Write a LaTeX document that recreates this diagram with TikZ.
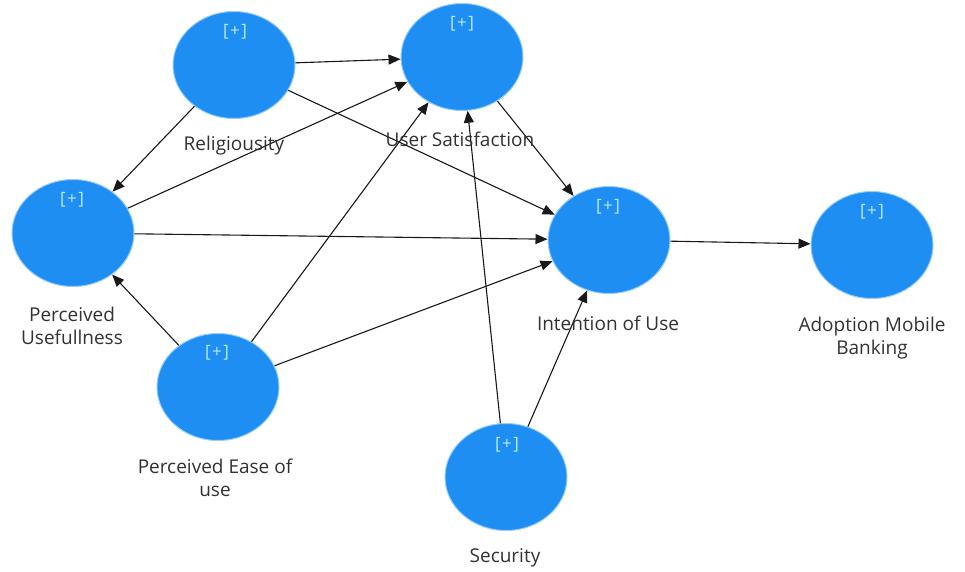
\documentclass[tikz,border=0pt]{standalone}
\usepackage{fontspec}
\setmainfont{Open Sans}
\usetikzlibrary{arrows.meta,shapes.geometric,calc}
\definecolor{lvfill}{RGB}{30,142,242}
\definecolor{lvedge}{RGB}{150,205,255}
\definecolor{plustext}{RGB}{185,235,255}
\definecolor{labtext}{RGB}{50,50,50}
\definecolor{arr}{RGB}{25,25,25}
\tikzset{
  lv/.style={ellipse, fill=lvfill, draw=lvedge, line width=1pt, minimum width=122pt, minimum height=107pt, inner sep=0pt},
  plus/.style={text=plustext, font=\fontsize{17}{17}\selectfont, inner sep=0pt},
  lab/.style={text=labtext, font=\fontsize{19}{23}\selectfont, align=center, inner sep=0pt},
  path/.style={draw=arr, line width=1.1pt, -{Triangle[length=12pt,width=10pt]}}
}
\newcommand{\plusmark}{[\kern1.5pt+\kern1.5pt]}
\begin{document}
\begin{tikzpicture}[x=1pt,y=-1pt]
\useasboundingbox (0,0) rectangle (965,572);
\fill[white] (0,0) rectangle (965,572);
% latent variables
\node[lv] (rel) at (234,65) {};
\node[lv] (us) at (462,57) {};
\node[lv] (pu) at (73,233) {};
\node[lv] (iou) at (609,240) {};
\node[lv] (amb) at (872,245) {};
\node[lv] (peou) at (218,387) {};
\node[lv] (sec) at (506,477) {};
% [+] markers
\node[plus] (relp) at (235,32) {\plusmark};
\node[plus] (usp) at (462,24) {\plusmark};
\node[plus] (pup) at (72,200) {\plusmark};
\node[plus] (ioup) at (608,207) {\plusmark};
\node[plus] (ambp) at (872,212) {\plusmark};
\node[plus] (peoup) at (217,353) {\plusmark};
\node[plus] (secp) at (507,445) {\plusmark};
% paths
\draw[path] (rel) -- (us);
\draw[path] (rel) -- (pu);
\draw[path] (rel) -- (iou);
\draw[path] (pu) -- (us);
\draw[path] (pu) -- (iou);
\draw[path] (peou) -- (pu);
\draw[path] (peou) -- (us);
\draw[path] (peou) -- (iou);
\draw[path] (us) -- (iou);
\draw[path] (sec) -- (us);
\draw[path] (sec) -- (iou);
\draw[path] (iou) -- (amb);
% labels
\node[lab] (rell) at (234,146) {Religiousity};
\node[lab] (usl) at (460,139) {User Satisfaction};
\node[lab] (pul) at (72,326) {Perceived\\Usefullness};
\node[lab] (ioul) at (608,323) {Intention of Use};
\node[lab] (ambl) at (872,338) {Adoption Mobile\\Banking};
\node[lab] (peoul) at (215,478) {Perceived Ease of\\use};
\node[lab] (secl) at (505,558) {Security};
\end{tikzpicture}
\end{document}
